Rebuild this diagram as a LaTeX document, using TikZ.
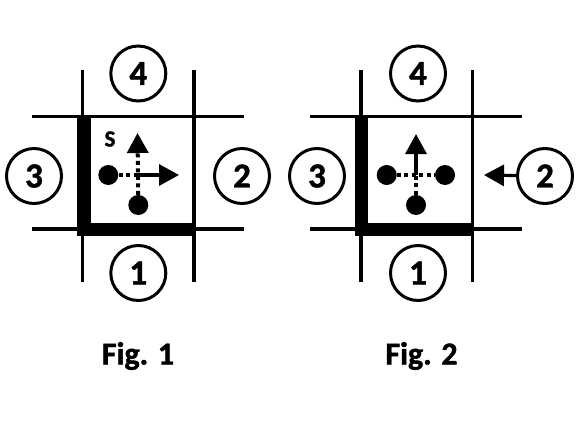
\documentclass[tikz,border=0pt]{standalone}
\usepackage{fontspec}
\setmainfont{Carlito}[BoldFont={Carlito Bold}]
\newfontfamily\heavy{Carlito Bold}[FakeBold=1.3]
\usetikzlibrary{arrows.meta}
\begin{document}
\begin{tikzpicture}[x=1pt,y=-1pt,
  grid/.style={line width=3.5pt},
  wall/.style={line width=13.5pt},
  num/.style={circle,draw,line width=3pt,minimum size=55pt,inner sep=0pt,font=\heavy\fontsize{35}{35}\selectfont},
  dot/.style={circle,fill,minimum size=20pt,inner sep=0pt},
  dotline/.style={line width=4pt,dash pattern=on 4pt off 3.5pt},
  arr/.style={line width=3.2pt,-{Triangle[length=20pt,width=21pt]}},
  dotarr/.style={dotline,-{Triangle[length=20pt,width=21pt]}},
  figcap/.style={font=\heavy\fontsize{32}{32}\selectfont}]
\useasboundingbox (0,0) rectangle (585,420);
% ---------- Fig 1 ----------
\coordinate (aT1) at (82.7,70);  \coordinate (aB1) at (82.7,282);
\coordinate (bT1) at (194,70);   \coordinate (bB1) at (194,282);
\coordinate (cL1) at (32,116.7); \coordinate (cR1) at (244,116.7);
\coordinate (dL1) at (32,229);   \coordinate (dR1) at (244,229);
\draw[grid] (aT1) -- (aB1);
\draw[grid] (bT1) -- (bB1);
\draw[grid] (cL1) -- (cR1);
\draw[grid] (dL1) -- (dR1);
\coordinate (w1a) at (84,116.7); \coordinate (w1b) at (84,236);
\coordinate (w1c) at (77,229.5); \coordinate (w1d) at (194,229.5);
\draw[wall] (w1a) -- (w1b);
\draw[wall] (w1c) -- (w1d);
\node[num] (n4a) at (138.3,73.5) {4};
\node[num] (n3a) at (34,176) {3};
\node[num] (n2a) at (242,176) {2};
\node[num] (n1a) at (138.3,273) {1};
\node[font=\heavy\fontsize{23}{23}\selectfont] (sa) at (110,139) {S};
\node[dot] (dla) at (108.3,175) {};
\node[dot] (dba) at (138.3,205) {};
\coordinate (ca) at (137.5,175);
\coordinate (tra) at (179,175);
\coordinate (tua) at (137.5,133);
\draw[dotline] (dla) -- (ca);
\draw[arr] (ca) -- (tra);
\draw[dotarr] (dba) -- (tua);
\node[figcap] (f1) at (138,356) {Fig. 1};
% ---------- Fig 2 ----------
\coordinate (aT2) at (361,70);   \coordinate (aB2) at (361,282);
\coordinate (bT2) at (472.7,70); \coordinate (bB2) at (472.7,282);
\coordinate (cL2) at (310,116.7); \coordinate (cR2) at (522.3,116.7);
\coordinate (dL2) at (310,229);   \coordinate (dR2) at (522.3,229);
\draw[grid] (aT2) -- (aB2);
\draw[grid] (bT2) -- (bB2);
\draw[grid] (cL2) -- (cR2);
\draw[grid] (dL2) -- (dR2);
\coordinate (w2a) at (361.5,116.7); \coordinate (w2b) at (361.5,236);
\coordinate (w2c) at (354.5,229.5); \coordinate (w2d) at (472.7,229.5);
\draw[wall] (w2a) -- (w2b);
\draw[wall] (w2c) -- (w2d);
\node[num] (n4b) at (418,73.5) {4};
\node[num] (n3b) at (317,176) {3};
\node[num] (n2b) at (545,176) {2};
\node[num] (n1b) at (418,273) {1};
\node[dot] (dlb) at (386.7,175) {};
\node[dot] (drb) at (445,175) {};
\node[dot] (dbb) at (416,205) {};
\coordinate (cb) at (416,175);
\coordinate (tub) at (416,134);
\coordinate (tlb) at (484,175);
\draw[dotline] (dlb) -- (drb);
\draw[dotline] (dbb) -- (cb);
\draw[arr] (cb) -- (tub);
\draw[arr] (n2b) -- (tlb);
\node[figcap] (f2) at (421.5,356) {Fig. 2};
\end{tikzpicture}
\end{document}
